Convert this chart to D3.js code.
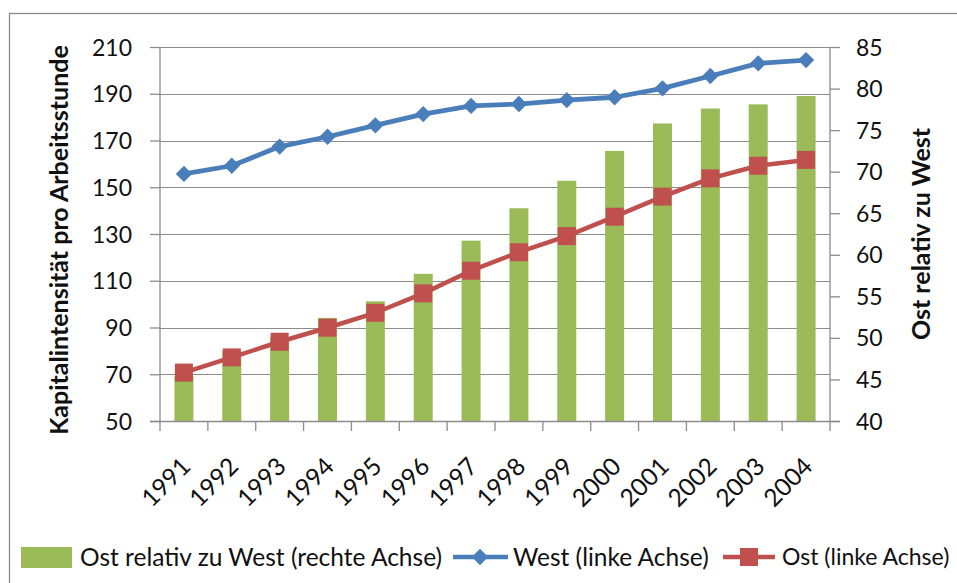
<!DOCTYPE html>
<html><head><meta charset="utf-8">
<script src="https://cdn.jsdelivr.net/npm/d3@7"></script>
<style>body{margin:0;background:#fff}svg{display:block}text{font-family:Lato,"Open Sans",sans-serif;fill:#111}</style>
</head><body><svg id="c" width="957" height="583"></svg>
<script>
const years = ["1991","1992","1993","1994","1995","1996","1997","1998","1999","2000","2001","2002","2003","2004"];
const ostRelativ = [45.4,48.5,50.1,52.4,54.4,57.7,61.7,65.6,68.9,72.5,75.8,77.6,78.1,79.1];
const west = [155.7,159.2,167.4,171.6,176.5,181.3,184.8,185.6,187.3,188.5,192.3,197.6,203.0,204.4];
const ost = [70.7,77.2,83.9,89.9,96.3,104.6,114.3,122.2,129.1,137.4,146.0,153.8,159.2,161.7];
const leftTicks = [50,70,90,110,130,150,170,190,210];
const rightTicks = [40,45,50,55,60,65,70,75,80,85];
const legendLabels = ["Ost relativ zu West (rechte Achse)","West (linke Achse)","Ost (linke Achse)"];
const leftTitle = "Kapitalintensität pro Arbeitsstunde";
const rightTitle = "Ost relativ zu West";

const GREEN="#9bbb59", BLUE="#4a7ebb", RED="#c0504d", GRID="#8c8c8c";
const svg = d3.select("#c");
const L=160, R=830, T=47, B=421;

svg.append("rect").attr("x",9.5).attr("y",13.5).attr("width",960).attr("height",600)
  .attr("fill","none").attr("stroke","#8c8c8c").attr("stroke-width",1.3);

const x = d3.scaleBand().domain(years).range([L,R]);
const yL = d3.scaleLinear().domain([50,210]).range([B,T]);
const yR = d3.scaleLinear().domain([40,85]).range([B,T]);

// gridlines
svg.append("g").selectAll("line").data(leftTicks).join("line")
  .attr("x1",L).attr("x2",R).attr("y1",d=>Math.round(yL(d))+0.5).attr("y2",d=>Math.round(yL(d))+0.5)
  .attr("stroke",GRID).attr("stroke-width",1.2);

// bars
const bw = 19;
svg.append("g").selectAll("rect").data(years).join("rect")
  .attr("x",d=>x(d)+x.bandwidth()/2-bw/2).attr("width",bw)
  .attr("y",(d,i)=>yR(ostRelativ[i])).attr("height",(d,i)=>B-yR(ostRelativ[i]))
  .attr("fill",GREEN);

// axes
const axL = d3.axisLeft(yL).tickValues(leftTicks).tickSize(10).tickPadding(18);
const gL = svg.append("g").attr("transform",`translate(${L},0)`).call(axL);
const axR = d3.axisRight(yR).tickValues(rightTicks).tickSize(10).tickPadding(16);
const gR = svg.append("g").attr("transform",`translate(${R},0)`).call(axR);
[gL,gR].forEach(g=>{
  g.select(".domain").attr("stroke",GRID).attr("stroke-width",1.3).attr("d", `M0,${T}V${B}`);
  g.selectAll(".tick line").attr("stroke",GRID).attr("stroke-width",1.3);
  g.selectAll(".tick text").style("font-size","23px").attr("fill","#111").attr("dy","0.35em");
});
// x axis
const gX = svg.append("g").attr("transform",`translate(0,${B})`);
gX.append("line").attr("x1",L-10).attr("x2",R+10).attr("y1",0.5).attr("y2",0.5).attr("stroke",GRID).attr("stroke-width",1.3);
const bounds = years.map(d=>x(d)).concat([R]);
gX.selectAll("line.t").data(bounds).join("line").attr("class","t")
  .attr("x1",d=>d).attr("x2",d=>d).attr("y1",0).attr("y2",10).attr("stroke",GRID).attr("stroke-width",1.3);
gX.selectAll("text").data(years).join("text")
  .attr("transform",d=>`translate(${x(d)+x.bandwidth()/2+8},${47}) rotate(-45)`)
  .attr("text-anchor","end").style("font-size","24.5px").text(d=>d);

// lines
const line = d3.line().x((d,i)=>x(years[i])+x.bandwidth()/2);
svg.append("path").datum(west).attr("d",line.y(d=>yL(d))).attr("fill","none").attr("stroke",BLUE).attr("stroke-width",4.8).attr("stroke-linejoin","round");
svg.append("path").datum(ost).attr("d",line.y(d=>yL(d))).attr("fill","none").attr("stroke",RED).attr("stroke-width",4.5).attr("stroke-linejoin","round");
const diamond = d3.symbol().type(d3.symbolDiamond2).size(170);
svg.append("g").selectAll("path").data(west).join("path")
  .attr("transform",(d,i)=>`translate(${x(years[i])+x.bandwidth()/2},${yL(d)})`)
  .attr("d",diamond()).attr("fill",BLUE);
const sq=18;
svg.append("g").selectAll("rect").data(ost).join("rect")
  .attr("x",(d,i)=>x(years[i])+x.bandwidth()/2-sq/2).attr("y",d=>yL(d)-sq/2)
  .attr("width",sq).attr("height",sq).attr("fill",RED);

// titles
svg.append("text").attr("transform",`translate(68,240) rotate(-90)`).attr("text-anchor","middle")
  .style("font-size","25px").style("font-weight","bold").text(leftTitle);
svg.append("text").attr("transform",`translate(930,234) rotate(-90)`).attr("text-anchor","middle")
  .style("font-size","25px").style("font-weight","bold").text(rightTitle);

// legend
const ly=557;
const lg = svg.append("g");
lg.append("rect").attr("x",21).attr("y",ly-10).attr("width",51).attr("height",21).attr("fill",GREEN);
lg.append("text").attr("x",80).attr("y",ly).attr("dy","0.35em").style("font-size","24.5px").text(legendLabels[0]);
lg.append("line").attr("x1",453).attr("x2",508).attr("y1",ly).attr("y2",ly).attr("stroke",BLUE).attr("stroke-width",4.5);
lg.append("path").attr("transform",`translate(480,${ly})`).attr("d",diamond()).attr("fill",BLUE);
lg.append("text").attr("x",513).attr("y",ly).attr("dy","0.35em").style("font-size","24.5px").text(legendLabels[1]);
lg.append("line").attr("x1",723).attr("x2",775).attr("y1",ly).attr("y2",ly).attr("stroke",RED).attr("stroke-width",4.5);
lg.append("rect").attr("x",749-sq/2).attr("y",ly-sq/2).attr("width",sq).attr("height",sq).attr("fill",RED);
lg.append("text").attr("x",782).attr("y",ly).attr("dy","0.35em").style("font-size","23px").text(legendLabels[2]);
</script></body></html>
